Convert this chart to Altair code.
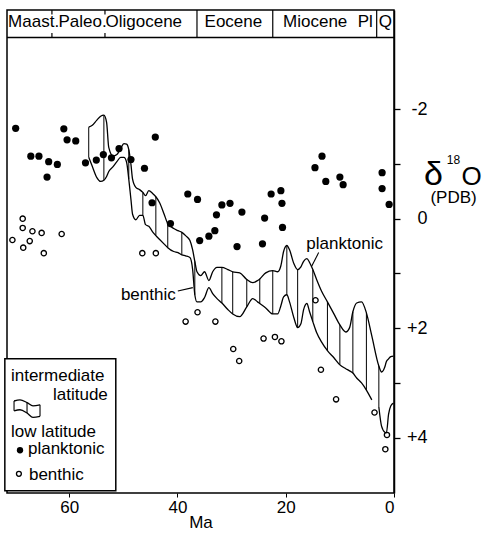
import altair as alt
import pandas as pd

FONT = "Liberation Sans"

# ---------------- data (Ma, delta18O permil PDB) ----------------
PLANK_MA = [69.9, 67.1, 65.6, 64.1, 63.8, 62.2, 61.0, 60.4, 58.8, 57.0,
            55.0, 53.7, 52.2, 50.8, 48.6, 46.1, 44.7, 44.1, 41.3, 38.1,
            36.3, 35.9, 34.2, 33.1, 32.8, 31.8, 30.3, 29.0, 28.1, 24.3,
            23.9, 22.7, 20.9, 20.7, 20.6, 14.6, 13.3, 12.6, 10.0, 9.4,
            2.2, 2.2, 0.9]
PLANK_D18O = [-1.65, -1.14, -1.14, -0.76, -1.04, -0.99, -1.64, -1.44, -1.42, -1.02,
              -1.07, -1.17, -1.11, -1.28, -1.08, -0.92, -0.29, -1.49, 0.09, -0.45,
              -0.35, 0.40, 0.32, 0.22, -0.07, -0.25, -0.28, 0.51, -0.12, 0.46,
              -0.01, -0.45, -0.51, -0.28, 0.16, -0.93, -1.14, -0.68, -0.76, -0.62,
              -0.84, -0.55, -0.26]

BENTH_MA = [70.5, 68.6, 68.6, 68.5, 67.3, 66.8, 65.1, 64.7, 61.4, 46.5,
            44.0, 38.5, 36.3, 33.0, 29.7, 28.6, 24.1, 22.0, 20.8, 14.5,
            13.5, 10.7, 3.6, 1.3, 1.6]
BENTH_D18O = [0.39, 0.0, 0.17, 0.53, 0.41, 0.23, 0.26, 0.63, 0.28, 0.63,
              0.63, 1.88, 1.71, 1.88, 2.38, 2.60, 2.19, 2.16, 2.24, 1.49,
              2.76, 3.30, 3.54, 3.95, 4.21]

# intermediate-latitude envelope (planktonic = upper edge, benthic = lower edge)
BAND_MA = [56.4, 55.8, 54.9, 54.2, 53.6, 53.1, 52.7, 51.9, 51.2, 50.5,
           49.9, 49.4, 49.0, 48.6, 48.3, 47.7, 47.0, 46.4, 45.9, 45.3,
           44.6, 44.0, 43.3, 42.5, 41.8, 40.7, 39.9, 39.2, 38.5, 37.7,
           37.2, 36.8, 36.4, 35.7, 35.0, 34.2, 33.5, 32.7, 31.8, 30.7,
           29.8, 28.5, 27.2, 26.1, 25.2, 24.8, 23.7, 22.4, 21.5, 20.9,
           20.4, 19.8, 19.3, 18.5, 17.8, 17.2, 16.7, 16.1, 15.6, 15.0,
           14.3, 13.4, 12.3, 11.1, 10.0, 8.9, 8.2, 7.6, 6.9, 6.0,
           5.1, 4.1, 2.8, 2.3, 1.7, 1.4, 1.0, 0.6, 0.1]
BAND_PLANK = [-1.67, -1.70, -1.80, -1.87, -1.89, -1.76, -1.30, -1.14, -1.17, -1.28,
              -1.37, -1.36, -1.26, -0.99, -0.72, -0.57, -0.53, -0.48, -0.42, -0.51,
              -0.46, -0.40, -0.29, -0.09, 0.09, 0.18, 0.22, 0.25, 0.31, 0.40,
              0.57, 0.78, 0.97, 1.04, 0.97, 1.13, 0.97, 0.89, 0.89, 0.93,
              0.97, 0.99, 1.11, 1.17, 1.13, 1.10, 0.99, 0.95, 0.97, 0.86,
              0.60, 0.49, 0.57, 0.82, 0.93, 0.88, 0.78, 0.73, 0.80, 0.93,
              1.11, 1.32, 1.52, 1.74, 1.94, 2.07, 1.99, 1.70, 1.54, 1.52,
              1.72, 2.14, 2.69, 2.80, 2.71, 2.61, 2.56, 2.52, 2.51]
BAND_BENTH = [-1.12, -0.97, -0.75, -0.68, -0.70, -0.77, -0.86, -0.95, -1.04, -1.12,
              -1.12, -1.03, -0.72, -0.35, -0.08, 0.02, -0.06, -0.06, 0.11, 0.14,
              0.24, 0.31, 0.38, 0.46, 0.53, 0.60, 0.62, 0.66, 0.68, 0.71,
              0.93, 1.39, 1.52, 1.52, 1.44, 1.26, 1.37, 1.46, 1.54, 1.66,
              1.74, 1.79, 1.61, 1.46, 1.52, 1.55, 1.63, 1.74, 1.74, 1.59,
              1.43, 1.39, 1.52, 1.81, 1.99, 1.92, 1.66, 1.55, 1.70, 1.88,
              2.08, 2.25, 2.41, 2.54, 2.67, 2.74, 2.78, 2.82, 2.91, 3.00,
              3.13, 3.31, 3.44, 3.79, 3.90, 3.91, 3.57, 3.42, 3.37]
BENTH_GAP_MA = 3.5          # benthic edge is interrupted here
HATCH_MA = [56.4, 53.6, 49.0, 46.4, 44.0, 41.8, 39.2, 36.8, 31.8, 29.8,
            27.2, 24.8, 22.4, 19.8, 17.8, 15.0, 12.3, 10.0, 7.6, 5.1, 2.8]

# time-scale strip (label start, in Ma)
EPOCH_NAMES = ["Maast.", "Paleo.", "Oligocene", "Eocene", "Miocene", "Pl", "Q"]
EPOCH_START = [71.3, 62.0, 53.3, 35.0, 20.5, 6.7, 2.84]
EPOCH_DIVIDERS = [36.4, 22.4, 3.2]
EPOCH_TICKS = [63.2, 53.4]

X_TICKS = [60, 40, 20, 0]
Y_TICKS = [-2, -1, 0, 1, 2, 3, 4]

X_DOMAIN = [0, 71.5]
Y_DOMAIN = [-3.81, 5.01]
STRIP_TOP, STRIP_BOTTOM = -3.81, -3.31

# ---------------- scales / axes ----------------
xs = alt.Scale(domain=X_DOMAIN, reverse=True, nice=False, zero=False)
ys = alt.Scale(domain=Y_DOMAIN, reverse=True, nice=False, zero=False)

x_axis = alt.Axis(values=X_TICKS, title="Ma", tickSize=4, tickColor="black",
                  labelFont=FONT, labelFontSize=17, labelColor="black", labelPadding=2,
                  titleFont=FONT, titleFontSize=17, titleColor="black",
                  titleFontWeight="normal", titlePadding=-1, domain=False, grid=False)
y_axis = alt.Axis(orient="right", values=Y_TICKS, title=None,
                  labelExpr="datum.value == -2 ? '-2' : datum.value == 0 ? '0' : "
                            "datum.value == 2 ? '+2' : datum.value == 4 ? '+4' : ''",
                  tickSize=6, tickColor="black", tickWidth=1.3,
                  labelAlign="right", labelPadding=27, labelFont=FONT,
                  labelFontSize=18, labelColor="black",
                  domain=True, domainColor="black", domainWidth=1.5, grid=False)

X = alt.X("ma:Q", scale=xs, axis=x_axis)
Y = alt.Y("d18o:Q", scale=ys, axis=y_axis)

# ---------------- frames ----------------
band = pd.DataFrame({"ma": BAND_MA, "d18o": BAND_PLANK, "d18o2": BAND_BENTH})
upper = band[["ma", "d18o"]]
lower = pd.DataFrame({"ma": BAND_MA, "d18o": BAND_BENTH})
lower["seg"] = (lower["ma"] < BENTH_GAP_MA).astype(int)
hatch = band[band["ma"].round(1).isin([round(h, 1) for h in HATCH_MA])]

plank = pd.DataFrame({"ma": PLANK_MA, "d18o": PLANK_D18O})
benth = pd.DataFrame({"ma": BENTH_MA, "d18o": BENTH_D18O})

LINE = dict(color="black", strokeWidth=1.3)

upper_line = alt.Chart(upper).mark_line(interpolate="monotone", **LINE).encode(x=X, y=Y)
lower_line = alt.Chart(lower).mark_line(interpolate="monotone", **LINE).encode(
    x=X, y=Y, detail="seg:N")
hatch_rules = alt.Chart(hatch).mark_rule(color="black", strokeWidth=1).encode(
    x=X, y=Y, y2=alt.Y2("d18o2:Q"))

plank_pts = alt.Chart(plank).mark_point(shape="circle", filled=True, size=52,
                                        color="black", opacity=1).encode(x=X, y=Y)
benth_pts = alt.Chart(benth).mark_point(shape="circle", filled=False, size=28,
                                        color="black", strokeWidth=1.3,
                                        opacity=1).encode(x=X, y=Y)

# time strip
strip_line = alt.Chart(pd.DataFrame({"ma": [X_DOMAIN[1]], "ma2": [X_DOMAIN[0]],
                                     "d18o": [STRIP_BOTTOM]})).mark_rule(
    color="black", strokeWidth=1.5).encode(x=X, x2=alt.X2("ma2:Q"), y=Y)
div_df = pd.DataFrame({"ma": EPOCH_DIVIDERS, "d18o": STRIP_TOP, "d18o2": STRIP_BOTTOM})
dividers = alt.Chart(div_df).mark_rule(color="black", strokeWidth=1.2).encode(
    x=X, y=Y, y2=alt.Y2("d18o2:Q"))
tick_df = pd.DataFrame({"ma": EPOCH_TICKS * 2,
                        "d18o": [STRIP_TOP] * 2 + [STRIP_BOTTOM - 0.08] * 2,
                        "d18o2": [STRIP_TOP + 0.08] * 2 + [STRIP_BOTTOM] * 2})
strip_ticks = alt.Chart(tick_df).mark_rule(color="black", strokeWidth=1.2).encode(
    x=X, y=Y, y2=alt.Y2("d18o2:Q"))
epoch_text = alt.Chart(pd.DataFrame({"ma": EPOCH_START, "d18o": -3.50,
                                     "label": EPOCH_NAMES})).mark_text(
    font=FONT, fontSize=17, baseline="alphabetic", align="left", color="black").encode(
    x=X, y=Y, text="label:N")

# legend box
legend_box = alt.Chart(pd.DataFrame({"ma": [71.9], "ma2": [51.4],
                                     "d18o": [2.56], "d18o2": [4.97]})).mark_rect(
    fill="white", stroke="black", strokeWidth=1.5).encode(
    x=X, x2=alt.X2("ma2:Q"), y=Y, y2=alt.Y2("d18o2:Q"))
ICON_MA = [70.2, 69.1, 67.8, 66.7, 65.4]
ICON_TOP = [3.33, 3.31, 3.36, 3.42, 3.40]
ICON_BOT = [3.51, 3.49, 3.55, 3.63, 3.61]
icon_top = alt.Chart(pd.DataFrame({"ma": ICON_MA, "d18o": ICON_TOP})).mark_line(
    interpolate="monotone", **LINE).encode(x=X, y=Y)
icon_bot = alt.Chart(pd.DataFrame({"ma": ICON_MA, "d18o": ICON_BOT})).mark_line(
    interpolate="monotone", **LINE).encode(x=X, y=Y)
icon_df = pd.DataFrame({"ma": ICON_MA, "d18o": ICON_TOP, "d18o2": ICON_BOT}).iloc[[0, 2, 4]]
icon_hatch = alt.Chart(icon_df).mark_rule(color="black", strokeWidth=1.1).encode(
    x=X, y=Y, y2=alt.Y2("d18o2:Q"))
leg_plank = alt.Chart(pd.DataFrame({"ma": [69.1], "d18o": [4.23]})).mark_point(
    shape="circle", filled=True, size=40, color="black", opacity=1).encode(x=X, y=Y)
leg_benth = alt.Chart(pd.DataFrame({"ma": [69.3], "d18o": [4.66]})).mark_point(
    shape="circle", filled=False, size=24, color="black", strokeWidth=1.3,
    opacity=1).encode(x=X, y=Y)

def texts(rows, align):
    df = pd.DataFrame(rows, columns=["ma", "d18o", "label", "fs"])
    return alt.Chart(df).mark_text(font=FONT, baseline="alphabetic", align=align,
                                   color="black").encode(
        x=X, y=Y, text="label:N", size=alt.Size("fs:Q", scale=None, legend=None))

left_text = texts([[70.77, 2.96, "intermediate", 17],
                   [70.77, 3.99, "low latitude", 17],
                   [67.63, 4.30, "planktonic", 17],
                   [67.45, 4.77, "benthic", 17]], "left")
right_text = texts([[52.87, 3.31, "latitude", 17]], "right")
center_text = texts([[9.12, 0.55, "planktonic", 17],
                     [45.39, 1.48, "benthic", 17],
                     [-7.31, -0.62, "δ", 34],
                     [-10.97, -0.99, "18", 12],
                     [-14.32, -0.62, "O", 26],
                     [-11.0, -0.28, "(PDB)", 17]], "center")

leader_df = pd.DataFrame({"ma": [13.92, 39.94], "d18o": [0.62, 1.32],
                          "ma2": [15.21, 37.17], "d18o2": [0.87, 1.26]})
leaders = alt.Chart(leader_df).mark_rule(color="black", strokeWidth=1.1).encode(
    x=X, y=Y, x2=alt.X2("ma2:Q"), y2=alt.Y2("d18o2:Q"))

chart = alt.layer(
    hatch_rules, upper_line, lower_line, benth_pts, plank_pts, leaders,
    strip_line, dividers, strip_ticks, epoch_text,
    legend_box, icon_top, icon_bot, icon_hatch, leg_plank, leg_benth,
    left_text, right_text, center_text,
).properties(
    width=387, height=483,
    autosize=alt.AutoSizeParams(type="none"),
    padding={"left": 7, "top": 10, "right": 88, "bottom": 42},
    background="white",
).configure_view(stroke="black", strokeWidth=1.5)

chart.save("out.html", embed_options={"renderer": "svg", "actions": False})
